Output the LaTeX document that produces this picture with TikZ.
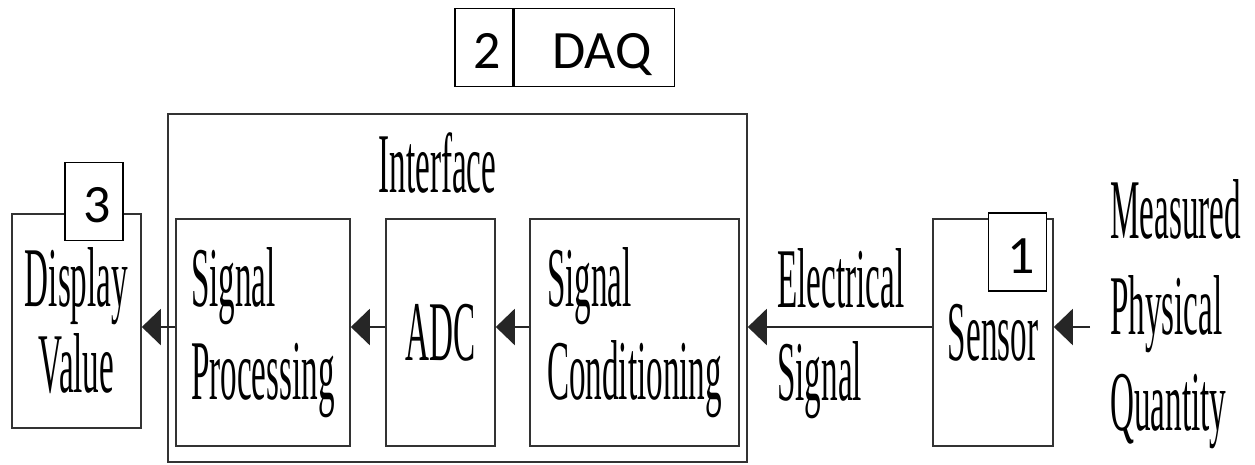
\documentclass[tikz,border=0pt]{standalone}
\usepackage{fontspec}
\newfontfamily\condserif[FakeStretch=0.39]{Liberation Serif}
\newfontfamily\calibrifont{Carlito}
\usetikzlibrary{arrows.meta,positioning}

\tikzset{
  blk/.style={draw=black!80, line width=1.6pt, inner sep=0pt,
    font=\condserif\fontsize{85}{93}\selectfont},
  lbl/.style={inner sep=0pt, align=left,
    font=\condserif\fontsize{85}{93}\selectfont},
  numbox/.style={draw=black, line width=1.6pt, fill=white,
    inner ysep=0pt, inner xsep=12pt, text width=34pt, align=right,
    text height=42pt, text depth=0pt, minimum height=78pt,
    font=\calibrifont\fontsize{54}{60}\selectfont},
  arr/.style={draw=black!85, line width=2.4pt,
    -{Triangle[length=19pt,width=36pt]}}
}

\begin{document}
\begin{tikzpicture}[x=1pt,y=-1pt]
    \useasboundingbox (0,0) rectangle (1255,464);

    % Interface
    \node[blk, minimum width=579pt, minimum height=348pt] (iface) at (457.5,288) {};
    \node[lbl, anchor=base] (ifacetxt) at (437.5,192) {Interface};

    % Bloecke
    \node[blk, minimum width=129pt, minimum height=214pt, align=center,
      font=\condserif\fontsize{85}{86}\selectfont] (disp) at (76.5,321) {Display\\Value};
    \node[blk, minimum width=174pt, minimum height=227pt, align=left] (sp) at (263,332.5) {Signal\\Processing};
    \node[blk, minimum width=109pt, minimum height=227pt] (adc) at (440.5,332.5) {ADC};
    \node[blk, minimum width=209pt, minimum height=227pt, align=left] (sc) at (634.5,332.5) {Signal\\Conditioning};
    \node[blk, minimum width=120pt, minimum height=227pt] (sensor) at (993,332.5) {Sensor};

    % freie Texte (base = letzte Zeile)
    \node[lbl, anchor=base west] (elsig) at (777,400) {Electrical\\Signal};
    \node[lbl, anchor=base west, font=\condserif\fontsize{85}{96}\selectfont] (meas) at (1110,430) {Measured\\Physical\\Quantity};

    % Pfeile
    \coordinate (ay) at (0,327);
    \coordinate (qin) at (1090,327);
    \draw[arr] (qin) -- (sensor.east |- ay);
    \draw[arr] (sensor.west |- ay) -- (iface.east |- ay);
    \draw[arr] (sc.west |- ay) -- (adc.east |- ay);
    \draw[arr] (adc.west |- ay) -- (sp.east |- ay);
    \draw[arr] (sp.west |- ay) -- (disp.east |- ay);

    % Nummern
    \node[numbox] (n1) at (1017.5,252) {1};
    \node[numbox] (n3) at (94,201.5) {3};
    \node[numbox] (n2) at (484,47.5) {2};
    \node[numbox, right=0pt of n2, text width=114pt, inner xsep=23pt] (daq) {DAQ};
\end{tikzpicture}
\end{document}
